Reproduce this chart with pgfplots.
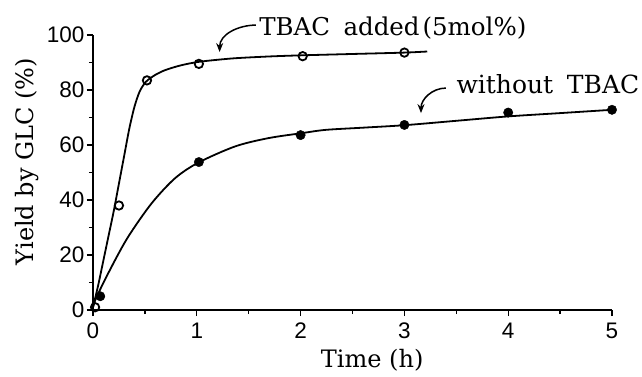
\documentclass[border=0pt]{standalone}
\usepackage{fontspec}
\setmainfont{DejaVu Serif}
\newfontfamily\ticksans{Liberation Sans}
\usepackage{pgfplots}
\pgfplotsset{compat=1.18}
\usetikzlibrary{arrows.meta}
\begin{document}
\begin{tikzpicture}
\useasboundingbox (-93pt,-66pt) rectangle (549pt,310pt);
\begin{axis}[
  at={(0,0)}, anchor=south west,
  scale only axis, width=519pt, height=275pt,
  xmin=0, xmax=5, ymin=0, ymax=100,
  axis x line=bottom, axis y line=left,
  axis line style={-, line width=1.8pt},
  xtick={0,1,2,3,4,5}, ytick={0,20,40,60,80,100},
  minor xtick={0.5,1.5,2.5,3.5,4.5}, minor ytick={10,30,50,70,90},
  tick style={black, line width=1.3pt},
  major tick length=6pt, minor tick length=4pt,
  tick align=outside,
  /pgf/number format/assume math mode=true,
  tick label style={font=\ticksans\fontsize{22.5}{26}\selectfont},
  xticklabel style={yshift=-3pt},
  yticklabel style={xshift=1pt},
  xlabel={Time (h)},
  ylabel={Yield by GLC (\%)},
  label style={font=\fontsize{24}{28}\selectfont},
  xlabel style={at={(rel axis cs:0.538,0)}, anchor=base, yshift=-57pt},
  ylabel style={at={(rel axis cs:0,0.54)}, anchor=base, yshift=59pt},
  clip=false,
]
% fitted curve, TBAC added
\addplot[black, line width=1.8pt, smooth, tension=0.45] coordinates {
 (0.0,1) (0.05,9) (0.1,18) (0.15,27) (0.2,36) (0.25,46) (0.3,56) (0.35,66)
 (0.4,74) (0.45,79.5) (0.51,83) (0.6,85.5) (0.7,87.3) (0.85,89) (1.03,90.3) (1.35,91.5)
 (1.7,92.2) (2.0,92.6) (2.5,93.1) (3.0,93.6) (3.22,94.0)};
% fitted curve, without TBAC
\addplot[black, line width=1.8pt, smooth, tension=0.5] coordinates {
 (0.0,1) (0.035,4.8) (0.18,15.8) (0.34,26.7) (0.565,38.8) (0.79,47.9)
 (1.015,53.6) (1.37,59.5) (1.69,62.5) (2.01,64.3) (2.24,65.5) (2.6,66.3)
 (3.0,67.2) (3.5,68.8) (4.0,70.4) (4.5,71.6) (5.0,72.8)};
% data, TBAC added (open circles)
\addplot[only marks, mark=o, mark size=4.2pt, mark options={line width=1.8pt, fill=white}] coordinates {
 (0.02,1) (0.25,38) (0.52,83.5) (1.02,89.5) (2.02,92.3) (3.0,93.6)};
% data, without TBAC (filled circles)
\addplot[only marks, mark=*, mark size=4.7pt, mark options={fill=black}] coordinates {
 (0.07,5) (1.02,53.8) (2.0,63.6) (3.0,67.3) (4.0,71.8) (5.0,72.8)};
% annotations
\node[anchor=base west, font=\fontsize{24.5}{28}\selectfont, inner sep=0pt] at (axis cs:1.6,100) {TBAC\hspace{0.55em}added\hspace{0.12em}(5mol\%)};
\draw[line width=1.5pt, -{Stealth[length=9pt,width=7pt]}] (axis cs:1.57,103.6) to[out=180,in=90] (axis cs:1.22,93.8);
\node[anchor=base west, font=\fontsize{25}{29}\selectfont, inner sep=0pt] at (axis cs:3.5,78.9) {without\hspace{0.55em}TBAC};
\draw[line width=1.5pt, -{Stealth[length=9pt,width=7pt]}] (axis cs:3.4,80.7) to[out=180,in=90] (axis cs:3.16,71.6);
\end{axis}
\end{tikzpicture}
\end{document}
